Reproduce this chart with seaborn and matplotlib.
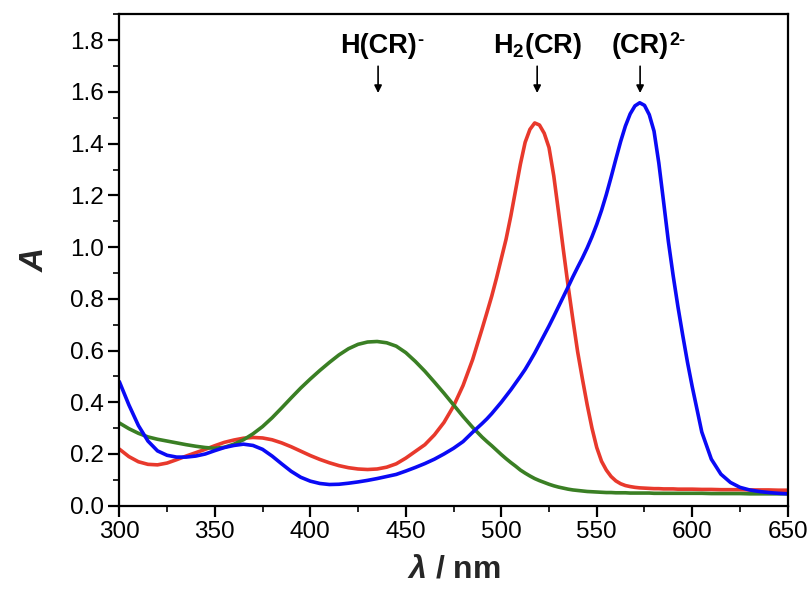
import numpy as np
import pandas as pd
import matplotlib
matplotlib.use("Agg")
import matplotlib.pyplot as plt
import seaborn as sns
from matplotlib.ticker import MultipleLocator

# ---------------- data ----------------
wavelength = ([300, 305, 310, 315, 320, 325, 330, 335, 340, 345, 350, 355, 360, 365, 370,
               375, 380, 385, 390, 395, 400, 405, 410, 415, 420, 425, 430, 435, 440, 445,
               450, 455, 460, 465, 470, 475, 480, 485]
              + [490, 492.5, 495, 497.5, 500, 502.5, 505, 507.5, 510, 512.5, 515, 517.5,
                 520, 522.5, 525, 527.5, 530, 532.5, 535, 537.5, 540, 542.5, 545, 547.5,
                 550, 552.5, 555, 557.5, 560, 562.5, 565, 567.5, 570, 572.5, 575, 577.5,
                 580, 582.5, 585, 587.5, 590, 592.5, 595, 597.5, 600]
              + [605, 610, 615, 620, 625, 630, 635, 640, 645, 650])

# H2(CR)  (red)
a_h2cr = ([0.219, 0.190, 0.170, 0.160, 0.158, 0.165, 0.178, 0.192, 0.205, 0.218, 0.232, 0.245,
           0.254, 0.261, 0.264, 0.262, 0.255, 0.243, 0.228, 0.211, 0.194, 0.179, 0.166, 0.155,
           0.147, 0.142, 0.140, 0.142, 0.149, 0.162, 0.184, 0.210, 0.236, 0.274, 0.322, 0.385,
           0.465, 0.565]
          + [0.685, 0.747, 0.810, 0.880, 0.955, 1.030, 1.120, 1.220, 1.320, 1.405, 1.455, 1.480,
             1.472, 1.440, 1.385, 1.275, 1.135, 0.990, 0.850, 0.720, 0.595, 0.490, 0.390, 0.300,
             0.225, 0.172, 0.138, 0.113, 0.096, 0.085, 0.078, 0.074, 0.071, 0.069, 0.068, 0.067,
             0.066, 0.066, 0.065, 0.065, 0.065, 0.064, 0.064, 0.064, 0.064]
          + [0.063, 0.063, 0.062, 0.062, 0.062, 0.061, 0.061, 0.061, 0.060, 0.060])

# H(CR)-  (green)
a_hcr = ([0.320, 0.298, 0.280, 0.266, 0.257, 0.250, 0.243, 0.236, 0.230, 0.225, 0.222, 0.226,
          0.238, 0.255, 0.278, 0.306, 0.340, 0.378, 0.417, 0.455, 0.490, 0.523, 0.554, 0.583,
          0.607, 0.624, 0.633, 0.635, 0.630, 0.617, 0.592, 0.558, 0.520, 0.478, 0.435, 0.390,
          0.345, 0.303]
         + [0.265, 0.248, 0.232, 0.215, 0.198, 0.182, 0.167, 0.153, 0.138, 0.126, 0.115, 0.105,
            0.097, 0.090, 0.083, 0.077, 0.072, 0.068, 0.064, 0.061, 0.059, 0.057, 0.055, 0.054,
            0.053, 0.052, 0.051, 0.051, 0.050, 0.050, 0.050, 0.049, 0.049, 0.049, 0.049, 0.049,
            0.048, 0.048, 0.048, 0.048, 0.048, 0.048, 0.048, 0.048, 0.048]
         + [0.048, 0.047, 0.047, 0.047, 0.047, 0.046, 0.046, 0.046, 0.046, 0.046])

# (CR)2-  (blue)
a_cr = ([0.480, 0.390, 0.310, 0.250, 0.212, 0.195, 0.188, 0.188, 0.192, 0.200, 0.213, 0.225,
         0.233, 0.238, 0.233, 0.218, 0.192, 0.162, 0.133, 0.110, 0.095, 0.086, 0.082, 0.083,
         0.087, 0.092, 0.098, 0.105, 0.113, 0.121, 0.134, 0.148, 0.163, 0.180, 0.200, 0.222,
         0.248, 0.284]
        + [0.318, 0.336, 0.356, 0.378, 0.400, 0.424, 0.448, 0.474, 0.500, 0.527, 0.558, 0.590,
           0.625, 0.660, 0.695, 0.732, 0.770, 0.808, 0.846, 0.885, 0.922, 0.958, 0.997, 1.040,
           1.088, 1.142, 1.203, 1.270, 1.340, 1.408, 1.468, 1.515, 1.546, 1.558, 1.548, 1.512,
           1.448, 1.325, 1.175, 1.022, 0.890, 0.770, 0.660, 0.555, 0.460]
        + [0.285, 0.180, 0.122, 0.090, 0.071, 0.061, 0.055, 0.051, 0.048, 0.046])

species = ["H2(CR)", "H(CR)-", "(CR)2-"]
colors = ["#E8392C", "#3A7F24", "#0A0AF5"]
peak_labels = ["H(CR)", r"$\mathbf{H_2(CR)}$", "(CR)"]
peak_supers = ["-", "", "2-"]
peak_positions = [435.5, 518.8, 572.7]

x_ticks = [300, 350, 400, 450, 500, 550, 600, 650]
y_ticks = [0.0, 0.2, 0.4, 0.6, 0.8, 1.0, 1.2, 1.4, 1.6, 1.8]

df = pd.concat([
    pd.DataFrame({"wl": wavelength, "A": a_h2cr, "sp": species[0]}),
    pd.DataFrame({"wl": wavelength, "A": a_hcr, "sp": species[1]}),
    pd.DataFrame({"wl": wavelength, "A": a_cr, "sp": species[2]}),
], ignore_index=True)

# ---------------- style ----------------
sns.set_theme(style="ticks")
plt.rcParams["font.family"] = ["Liberation Sans", "DejaVu Sans"]
plt.rcParams["mathtext.fontset"] = "custom"
plt.rcParams["mathtext.rm"] = "Liberation Sans"
plt.rcParams["mathtext.bf"] = "Liberation Sans:bold"
plt.rcParams["mathtext.it"] = "Liberation Sans:italic:bold"

fig = plt.figure(figsize=(8.10, 5.97), dpi=100)
ax = fig.add_axes([0.1473, 0.1529, 0.8252, 0.8231])

sns.lineplot(data=df, x="wl", y="A", hue="sp", hue_order=species,
             palette=dict(zip(species, colors)), linewidth=2.6,
             legend=False, ax=ax, sort=False, estimator=None)
for ln in ax.get_lines():
    ln.set_solid_joinstyle("round")

ax.set_xlim(300, 650)
ax.set_ylim(0, 1.9)
ax.set_xticks(x_ticks)
ax.set_yticks(y_ticks)
ax.set_xticklabels([str(v) for v in x_ticks])
ax.set_yticklabels([f"{v:.1f}" for v in y_ticks])
ax.xaxis.set_minor_locator(MultipleLocator(25))
ax.yaxis.set_minor_locator(MultipleLocator(0.1))
ax.tick_params(which="major", direction="out", length=8, width=1.6, labelsize=17.5,
               colors="black", pad=3)
ax.tick_params(which="minor", direction="out", length=4.5, width=1.4)
ax.tick_params(top=False, right=False, which="both")
for s in ax.spines.values():
    s.set_visible(True)
    s.set_linewidth(1.6)
    s.set_color("black")

ax.set_xlabel(r"$\mathit{\lambda}$ / nm", fontsize=23, fontweight="bold", labelpad=8)
ax.set_ylabel("A", fontsize=24, fontweight="bold", fontstyle="italic", labelpad=14)

for lab, sup, xp in zip(peak_labels, peak_supers, peak_positions):
    ax.annotate("", xy=(xp, 1.585), xytext=(xp, 1.71),
                arrowprops=dict(arrowstyle="-|>", color="black", lw=1.2, mutation_scale=11))
    t = ax.text(xp, 1.75, lab, ha="center", va="baseline", fontsize=19.5,
                fontweight="bold", color="black")
    if sup:
        ax.annotate(sup, xy=(1.0, 1.0), xycoords=t, xytext=(0.5, 1.0),
                    textcoords="offset points", ha="left", va="top",
                    fontsize=13, fontweight="bold", color="black")

fig.savefig("out.png", dpi=100)
